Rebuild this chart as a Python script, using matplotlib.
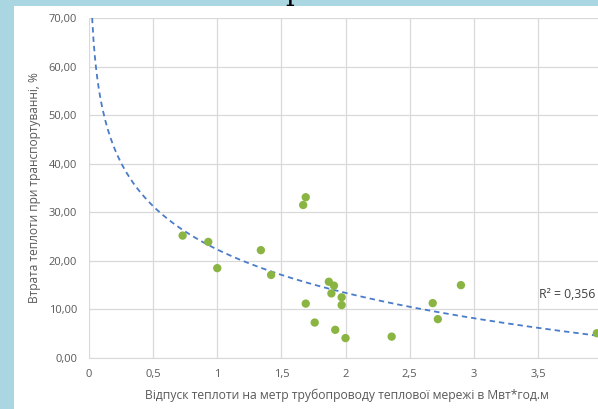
import matplotlib.pyplot as plt
from matplotlib.ticker import FuncFormatter, MultipleLocator
import numpy as np

# Values
heat_supply = [0.73, 0.93, 1.00, 1.34, 1.42, 1.69, 1.67, 1.69, 1.76, 1.87, 1.91,
               1.89, 1.97, 1.97, 1.92, 2.00, 2.36, 2.68, 2.72, 2.90, 3.96]
heat_loss = [25.2, 23.9, 18.5, 22.2, 17.1, 33.1, 31.5, 11.2, 7.3, 15.7, 14.9,
             13.3, 12.5, 10.9, 5.8, 4.1, 4.4, 11.3, 8.0, 15.0, 5.1]
x_ticks = [0, 0.5, 1, 1.5, 2, 2.5, 3, 3.5]
r2_label = "R² = 0,356"
x_label = "Відпуск теплоти на метр трубопроводу теплової мережі в Мвт*год.м"
y_label = "Втрата теплоти при транспортуванні, %"

plt.rcParams['font.family'] = ['Open Sans', 'DejaVu Sans']

fig = plt.figure(figsize=(5.98, 4.09), dpi=100)
fig.patch.set_facecolor('#a9d6e0')

# white chart panel
panel = plt.Rectangle((14 / 598, 0), 1, 1 - 6 / 409, transform=fig.transFigure,
                      facecolor='white', edgecolor='none', zorder=-10)
fig.patches.append(panel)

# cropped title descender at the very top
fig.text(294 / 598, 1.0, "р", fontsize=20, family='DejaVu Serif', color='black',
         ha='center', va='baseline')

ax = fig.add_axes([89 / 598, 1 - 358 / 409, 513 / 598, 340 / 409])
ax.set_facecolor('none')
ax.set_zorder(1)

# logarithmic trendline like Excel
a, b = np.polyfit(np.log(heat_supply), heat_loss, 1)
xs = np.linspace(0.005, 4, 400)
ax.plot(xs, a * np.log(xs) + b, color='#4a7cc9', lw=1.3, ls=(0, (3, 2.2)), zorder=3)

ax.scatter(heat_supply, heat_loss, s=36, color='#8bb543', edgecolors='none', zorder=4)

ax.text(3.51, 13.0, r2_label, fontsize=8.8, color='#404040', va='center', ha='left')

ax.set_xlim(0, 4)
ax.set_ylim(0, 70)
ax.set_xticks(x_ticks)
ax.yaxis.set_major_locator(MultipleLocator(10))
ax.xaxis.set_major_formatter(FuncFormatter(lambda v, p: ('%g' % v).replace('.', ',')))
ax.yaxis.set_major_formatter(FuncFormatter(lambda v, p: ('%.2f' % v).replace('.', ',')))
ax.grid(color='#d9d9d9', lw=0.9, zorder=0)
ax.set_axisbelow(True)
for s in ['top', 'right', 'left']:
    ax.spines[s].set_visible(False)
ax.spines['bottom'].set_color('#d9d9d9')
ax.tick_params(length=0, labelsize=8, labelcolor='#595959', pad=8)
ax.tick_params(axis='y', pad=8.6)

ax.set_xlabel(x_label, fontsize=8.7, color='#595959', va='center')
ax.set_ylabel(y_label, fontsize=8.6, color='#595959', va='center')
ax.xaxis.set_label_coords(0.502, (358 - 395) / 340)
ax.yaxis.set_label_coords((35 - 89) / 513, 0.5)

fig.savefig('out.png', dpi=100)
